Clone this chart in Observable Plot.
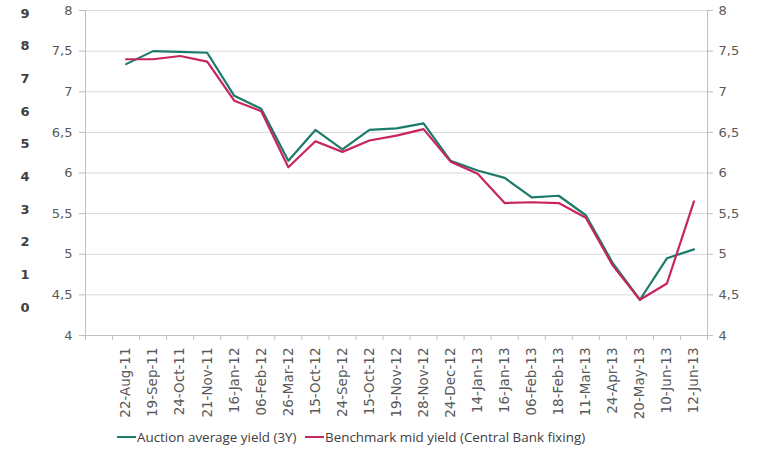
<!DOCTYPE html>
<html>
<head>
<meta charset="utf-8">
<script src="https://cdn.jsdelivr.net/npm/d3@7"></script>
<script src="https://cdn.jsdelivr.net/npm/@observablehq/plot@0.6"></script>
<style>
  body { margin: 0; background: #fff; font-family: "Open Sans", "Liberation Sans", sans-serif; }
  #wrap { position: relative; width: 758px; height: 456px; }
  #legend { position: absolute; left: 0; top: 428px; width: 758px; height: 20px; font-size: 13.4px; color: #404040; }
  .item { position: absolute; top: 0; white-space: nowrap; display: flex; align-items: center; }
  .swatch { display: inline-block; width: 19px; height: 2px; margin-right: 1px; }
</style>
</head>
<body>
<div id="wrap">
  <div id="chart"></div>
  <div id="legend"></div>
</div>
<script>
// Categories (x axis; first band of the chart is empty)
const categories = ["22-Aug-11","19-Sep-11","24-Oct-11","21-Nov-11","16-Jan-12","06-Feb-12","26-Mar-12","15-Oct-12","24-Sep-12","15-Oct-12","19-Nov-12","28-Nov-12","24-Dec-12","14-Jan-13","16-Jan-13","06-Feb-13","18-Feb-13","11-Mar-13","24-Apr-13","20-May-13","10-Jun-13","12-Jun-13"];
// Series
const auctionYield   = [7.34,7.50,7.49,7.48,6.95,6.79,6.15,6.53,6.29,6.53,6.55,6.61,6.15,6.03,5.94,5.70,5.72,5.48,4.89,4.44,4.95,5.06];
const benchmarkYield = [7.40,7.40,7.44,7.37,6.89,6.76,6.07,6.39,6.26,6.40,6.46,6.54,6.14,5.99,5.63,5.64,5.63,5.45,4.86,4.44,4.64,5.65];
// Tick labels
const yTicks = [4,4.5,5,5.5,6,6.5,7,7.5,8];
const outerTicks = [0,1,2,3,4,5,6,7,8,9]; // partially visible left axis from cropped chart
const seriesNames = ["Auction average yield (3Y)", "Benchmark mid yield (Central Bank fixing)"];
const colors = ["#1c7a6a", "#c8255e"];

const rowsA = categories.map((c, i) => ({x: i + 1.5, y: auctionYield[i], s: seriesNames[0]}));
const rowsB = categories.map((c, i) => ({x: i + 1.5, y: benchmarkYield[i], s: seriesNames[1]}));

const fmt = d => String(d).replace(".", ",");
const centers = categories.map((c, i) => i + 1.5);
const bounds = d3.range(0, categories.length + 2);

// cropped secondary axis mapping: 0 -> 4.345, 9 -> 7.963 on the main scale
const outerY = v => 4.345 + v * (7.963 - 4.345) / 9;
const axisFont = "'DejaVu Sans', sans-serif";

const chart = Plot.plot({
  width: 758,
  height: 425,
  marginLeft: 85,
  marginRight: 51,
  marginTop: 10,
  marginBottom: 90,
  style: {fontFamily: axisFont, background: "#fff"},
  x: {type: "linear", domain: [0, categories.length + 1]},
  y: {domain: [4, 8]},
  marks: [
    Plot.gridY(yTicks, {stroke: "#d9d9d9", strokeOpacity: 1}),
    Plot.ruleX([0, categories.length + 1], {stroke: "#bfbfbf"}),
    Plot.ruleY([4], {stroke: "#bfbfbf"}),
    Plot.axisY(yTicks, {anchor: "left", tickSize: 6, tickPadding: 7, tickFormat: fmt, label: null, fontSize: 13, stroke: "#bfbfbf", fill: "#595959"}),
    Plot.axisY(yTicks, {anchor: "right", tickSize: 5, tickPadding: 6, tickFormat: fmt, label: null, fontSize: 13, stroke: "#bfbfbf", fill: "#595959"}),
    Plot.axisX(bounds, {tickSize: 5, tickFormat: () => "", label: null, stroke: "#bfbfbf"}),
    Plot.axisX(centers, {tickSize: 0, tickPadding: 12, tickRotate: -90, tickFormat: d => categories[Math.round(d - 1.5)], label: null, fontSize: 13.5, fill: "#595959"}),
    Plot.text(outerTicks, {y: outerY, text: d => String(d), frameAnchor: "left", dx: -65, fontSize: 13, fontWeight: "bold", fill: "#404040"}),
    Plot.line(rowsA, {x: "x", y: "y", stroke: colors[0], strokeWidth: 2.2}),
    Plot.line(rowsB, {x: "x", y: "y", stroke: colors[1], strokeWidth: 2.2})
  ]
});
document.getElementById("chart").appendChild(chart);

const legend = document.getElementById("legend");
const legendPos = [117, 305];
seriesNames.forEach((name, i) => {
  const item = document.createElement("div");
  item.className = "item";
  item.style.left = legendPos[i] + "px";
  const sw = document.createElement("span");
  sw.className = "swatch";
  sw.style.background = colors[i];
  item.appendChild(sw);
  const t = document.createElement("span");
  t.textContent = name;
  item.appendChild(t);
  legend.appendChild(item);
});
</script>
</body>
</html>
